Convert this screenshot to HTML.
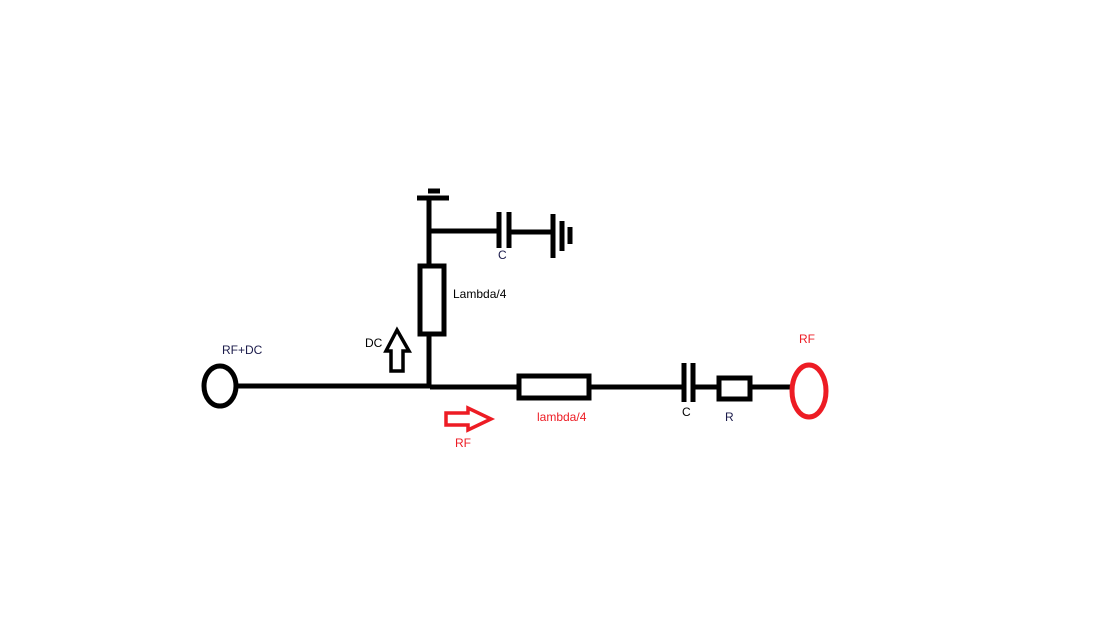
<!DOCTYPE html>
<html><head><style>
body{margin:0;background:#fff;}
svg{display:block;}
text{font-family:"Liberation Sans",sans-serif;font-size:12px;}
</style></head><body>
<svg width="1095" height="621" viewBox="0 0 1095 621">
<g stroke="#000" stroke-width="5" fill="none">
<ellipse cx="220" cy="386" rx="16" ry="20"/>
<line x1="237" y1="386" x2="430" y2="386"/>
<line x1="430" y1="387" x2="517" y2="387"/>
<line x1="429" y1="388" x2="429" y2="198"/>
<line x1="417" y1="198" x2="449" y2="198"/>
<line x1="428" y1="191" x2="440" y2="191"/>
<rect x="420" y="266" width="24" height="68" fill="#fff"/>
<line x1="429" y1="231" x2="498" y2="231"/>
<line x1="499" y1="212" x2="499" y2="248"/>
<line x1="509" y1="212" x2="509" y2="248"/>
<line x1="509" y1="232" x2="553" y2="232"/>
<line x1="553" y1="214" x2="553" y2="258"/>
<line x1="562" y1="221" x2="562" y2="251"/>
<line x1="570" y1="227" x2="570" y2="244"/>
<rect x="519" y="376" width="70" height="22" fill="#fff"/>
<line x1="591" y1="387" x2="683" y2="387"/>
<line x1="684" y1="363" x2="684" y2="402"/>
<line x1="693" y1="363" x2="693" y2="402"/>
<line x1="693" y1="387" x2="719" y2="387"/>
<rect x="719" y="378" width="31" height="21" fill="#fff"/>
<line x1="751" y1="387" x2="791" y2="387"/>
</g>
<polygon points="397,330 386,351 391,351 391,371 403,371 403,351 409,351" fill="none" stroke="#000" stroke-width="3.5"/>
<polygon points="446,413 468,413 468,408 491,419 468,430 468,425 446,425" fill="none" stroke="#ed1c24" stroke-width="3.5"/>
<ellipse cx="809" cy="391" rx="17" ry="26" fill="none" stroke="#ed1c24" stroke-width="5"/>
<text x="222" y="354" fill="#1a1a4a">RF+DC</text>
<text x="365" y="347">DC</text>
<text x="453" y="298">Lambda/4</text>
<text x="498" y="259" fill="#1a1a4a">C</text>
<text x="455" y="447" fill="#ed1c24">RF</text>
<text x="537" y="421" fill="#ed1c24">lambda/4</text>
<text x="682" y="416">C</text>
<text x="725" y="421" fill="#1a1a4a">R</text>
<text x="799" y="343" fill="#ed1c24">RF</text>
</svg>
</body></html>
